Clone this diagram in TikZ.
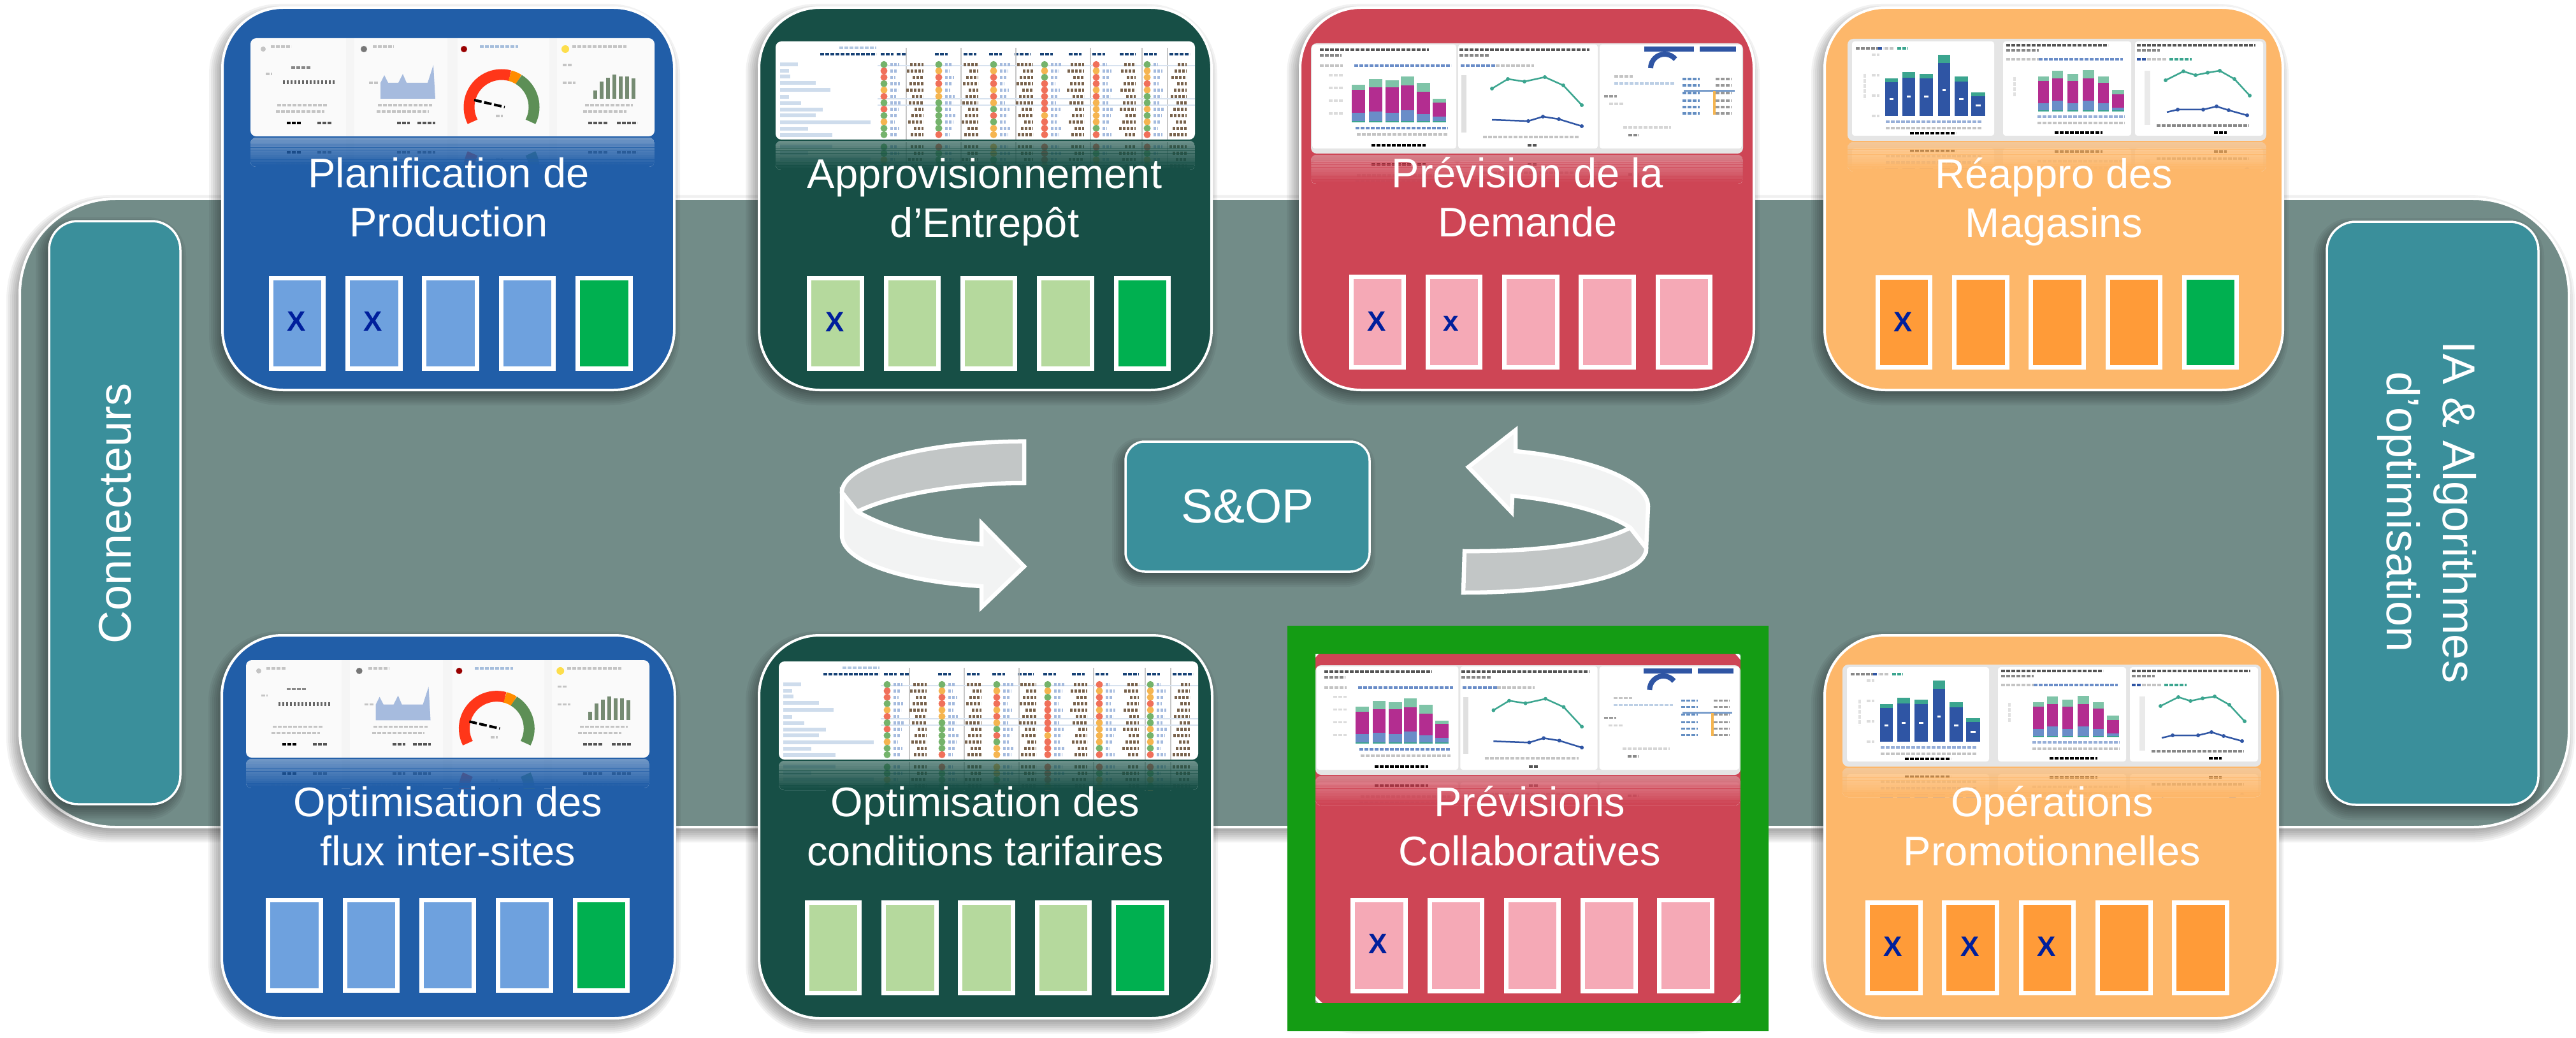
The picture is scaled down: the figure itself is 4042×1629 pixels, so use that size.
\documentclass[tikz,border=0pt]{standalone}
\usepackage{fontspec}
\setmainfont{Liberation Sans}
\definecolor{band}{HTML}{728C88}
\definecolor{teal1}{HTML}{3A8F9B}
\definecolor{cblue}{HTML}{215EA8}
\definecolor{cgreen}{HTML}{174F46}
\definecolor{cred}{HTML}{CE4555}
\definecolor{corange}{HTML}{FDB76A}
\definecolor{sblue}{HTML}{6EA1DE}
\definecolor{sgreen}{HTML}{B5D99D}
\definecolor{spink}{HTML}{F5A9B6}
\definecolor{sorange}{HTML}{FF9B38}
\definecolor{slast}{HTML}{00B050}
\definecolor{xnavy}{HTML}{001F9C}
\definecolor{frameg}{HTML}{149C14}
\definecolor{arlight}{HTML}{F2F3F3}
\definecolor{argrey}{HTML}{C2C6C6}
\definecolor{stG}{HTML}{74B36B}
\definecolor{stR}{HTML}{F0705A}
\definecolor{stO}{HTML}{F5B550}
\definecolor{bgreen}{HTML}{7FC4A8}
\definecolor{bmag}{HTML}{B32D90}
\definecolor{bblue}{HTML}{6A8DC8}
\definecolor{bteal}{HTML}{3BA58F}
\definecolor{bnavy}{HTML}{2F55A4}
\definecolor{mkgrey}{HTML}{C4C4C4}
\definecolor{mkdark}{HTML}{555555}
\tikzset{
  mk/.style={line width=3.5pt,dash pattern=on 6pt off 2pt},
  tb/.style={line width=5pt,dash pattern=on 4pt off 2pt},
  cardtext/.style={anchor=north,inner sep=0pt,align=center,text=white,font=\fontsize{65}{77.5}\selectfont},
  sidetext/.style={inner sep=0pt,align=center,text=white,font=\fontsize{72}{88}\selectfont},
  xmark/.style={inner sep=0pt,text=xnavy,font=\fontsize{44}{44}\selectfont\bfseries},
  slotbox/.style={draw=white,line width=7pt},
  tealbox/.style={fill=teal1,draw=white,line width=3.5pt},
  arrowface/.style={draw=white,line width=6.5pt,line join=miter,miter limit=10}
}
\newcommand\softshadow[5]{%
  \foreach \s in {-6,-3,0,3,6,9,12,15}{%
    \pgfmathsetmacro\rr{#5+\s}%
    \fill[black,opacity=.05,rounded corners=\rr pt] ({#1-\s-6},{#2-\s+9}) rectangle ({#3+\s-6},{#4+\s+9});
  }%
}
\newcommand\roundbox[6]{%
  \softshadow{#1}{#2}{#3}{#4}{#5}%
  \draw[fill=#6,draw=white,line width=4pt,rounded corners=#5pt] (#1,#2) rectangle (#3,#4);
}
\newcommand\slotrow[3]{% y1, y2, list x1/x2/fill
  \foreach \a/\b/\c in {#3}{%
    \draw[slotbox,fill=\c] ({\a+3.5},{#1+3.5}) rectangle ({\b-3.5},{#2-3.5});
  }%
}
% gauge dashboard, 634 x 154
\newcommand\dashA{%
  \fill[black!4] (150,0) rectangle (163,154);
  \fill[black!4] (309,0) rectangle (325,154);
  \fill[black!4] (469,0) rectangle (481,154);
  \fill[mkgrey] (20,17) circle[radius=4];
  \draw[mk,mkgrey] (32,13)--(64,13);
  \draw[mk,mkdark!70] (64,46)--(94,46);
  \draw[line width=6pt,mkdark!90,dash pattern=on 3pt off 3pt] (51,69)--(134,69);
  \draw[mk,mkgrey] (24,56)--(34,56);
  \draw[mk,mkgrey] (42,105)--(120,105);
  \draw[mk,mkgrey] (40,115)--(116,115);
  \draw[mk,black] (57,133)--(80,133);
  \draw[mk,mkdark] (105,133)--(128,133);
  \fill[mkdark!80] (178,17) circle[radius=5];
  \draw[mk,mkgrey] (192,13)--(225,13);
  \fill[fill=bblue!60] (204,95)--(204,70)--(210,58)--(216,70)--(232,70)--(239,56)--(245,70)--(278,70)--(287,42)--(290,95)--cycle;
  \draw[mk,mkgrey] (186,70)--(200,70);
  \draw[mk,mkgrey] (200,105)--(285,105);
  \draw[mk,mkgrey] (198,115)--(280,115);
  \draw[mk,mkdark] (230,133)--(250,133);
  \draw[mk,mkdark] (262,133)--(290,133);
  \fill[red!60!black] (335,17) circle[radius=5];
  \draw[mk,cblue!40] (360,13)--(420,13);
  \draw[line width=17pt,red!75!orange!90] (394,108) ++(-207:51) arc[start angle=-207,end angle=-75,radius=51];
  \draw[line width=17pt,orange!90!yellow] (394,108) ++(-75:51) arc[start angle=-75,end angle=-58,radius=51];
  \draw[line width=17pt,stG!80!black] (394,108) ++(-58:51) arc[start angle=-58,end angle=27,radius=51];
  \draw[line width=4pt,black,dash pattern=on 12pt off 4pt] (351,97)--(399,108);
  \draw[mk,mkgrey] (385,122)--(396,122);
  \fill[yellow!70!orange!70] (494,17) circle[radius=6];
  \draw[mk,mkgrey] (505,13)--(590,13);
  \draw[mk,mkgrey] (490,42)--(505,42);
  \draw[mk,mkgrey] (490,70)--(510,70);
  \foreach \a/\t in {538/82,548/68,558/62,568/57,578/60,588/60,598/63}{%
    \fill[stG!50!black!70] (\a,\t) rectangle ++(6,{95-\t});
  }%
  \draw[mk,mkgrey] (525,105)--(600,105);
  \draw[mk,mkgrey] (522,115)--(590,115);
  \draw[mk,mkdark] (530,133)--(560,133);
  \draw[mk,mkdark] (575,133)--(607,133);
}
% table dashboard, 658 x 154
\newcommand\stcol[2]{%
  \foreach \s [count=\n] in {#2}{%
    \pgfmathsetmacro\yy{26.3+10*\n}%
    \pgfmathsetmacro\wa{7+mod(\n*7+#1,10)}%
    \pgfmathsetmacro\wb{10+mod(\n*5+#1,14)}%
    \fill[st\s] (#1,\yy) circle[radius=5.5];
    \draw[tb,bblue!60] ({#1+10},\yy)--({#1+10+\wa},\yy);
    \draw[tb,mkdark!65!brown] ({#1+58-\wb},\yy)--({#1+62},\yy);
  }%
}
\newcommand\dashB{%
  \foreach \ly/\wd in {36/35,46/21,55/23,65/63,76/86,87/21,97/40,107/74,116/63,127/149,137/51,147/89}{%
    \draw[line width=6pt,cblue!22] (7,\ly)--(\wd,\ly);
  }%
  \draw[mk,cblue!70!black] (70,20)--(158,20);
  \draw[mk,cblue!35] (100,10)--(158,10);
  \foreach \a/\b in {165/185,190/205,250/270,295/315,335/355,375/400,415/435,460/480,497/517,540/565,578/598,618/650}{%
    \draw[mk,cblue!70!black] (\a,20)--(\b,20);
  }%
  \foreach \a in {205,291,377,494,575,615}{\draw[line width=2pt,black!22] (\a,10)--(\a,154);}%
  \foreach \b in {38,90,100}{\draw[line width=2pt,cblue!18] (160,\b)--(658,\b);}%
  \stcol{170}{G,R,R,G,O,R,G,R,G,O,G,G}%
  \stcol{256}{G,O,R,R,O,O,G,G,G,G,G,R}%
  \stcol{342}{G,O,R,R,O,R,O,G,R,G,O,O}%
  \stcol{422}{G,O,G,R,R,R,R,R,O,R,R,R}%
  \stcol{503}{R,O,R,R,O,R,O,O,O,O,G,R}%
  \stcol{583}{G,O,O,R,O,G,G,O,G,O,G,R}%
}
% demand dashboard, 678 x 173
\newcommand\dashC{%
  \fill[white,rounded corners=4pt] (2,2) rectangle (228,165);
  \fill[white,rounded corners=4pt] (231,2) rectangle (450,165);
  \fill[white,rounded corners=4pt] (453,2) rectangle (676,165);
  \draw[mk,mkdark] (14,10)--(185,10);
  \draw[mk,mkdark!70] (14,19)--(48,19);
  \draw[mk,mkdark] (233,10)--(437,10);
  \draw[mk,mkdark!70] (233,19)--(280,19);
  \draw[mk,mkgrey] (14,35)--(50,35);
  \draw[mk,bblue] (68,35)--(220,35);
  \draw[mk,bblue] (235,35)--(290,35);
  \draw[mk,mkgrey] (290,35)--(350,35);
  \foreach \a/\t/\g/\m in {64/65/73/109,91/56/69/107,117/58/69/109,141/52/66/105,166/62/76/111,191/87/93/115}{%
    \fill[bgreen] (\a,\t) rectangle ++(21,{\g-\t});
    \fill[bmag] (\a,\g) rectangle ++(21,{\m-\g});
    \fill[bblue] (\a,\m) rectangle ++(21,{122-\m});
    \fill[bteal] (\a,122) rectangle ++(21,2);
  }%
  \draw[mk,mkgrey!60] (28,50)--(50,50);
  \draw[mk,mkgrey!60] (28,70)--(50,70);
  \draw[mk,mkgrey!60] (28,90)--(50,90);
  \draw[mk,mkgrey!60] (28,110)--(50,110);
  \draw[mk,bblue] (70,133)--(215,133);
  \draw[mk,mkgrey] (72,143)--(215,143);
  \draw[mk,black] (95,160)--(180,160);
  \draw[line width=8pt,black!12] (240,50)--(240,140);
  \draw[line width=2.5pt,bteal] (284,71)--(309,56)--(335,60)--(367,53)--(396,66)--(425,97);
  \foreach \a/\b in {284/71,309/56,335/60,367/53,396/66,425/97}{\fill[bteal] (\a,\b) circle[radius=3];}%
  \draw[line width=2.5pt,bnavy] (284,120)--(341,122)--(364,115)--(389,119)--(425,130);
  \foreach \a/\b in {341/122,364/115,389/119,425/130}{\fill[bnavy] (\a,\b) circle[radius=3];}%
  \draw[mk,mkgrey] (270,147)--(420,147);
  \draw[mk,mkdark] (340,160)--(355,160);
  \fill[bnavy] (523,5) rectangle (601,13);
  \fill[bnavy] (610,5) rectangle (667,13);
  \draw[line width=8pt,bnavy] (555,39) ++(-180:22) arc[start angle=-180,end angle=-40,radius=22];
  \draw[mk,mkgrey] (476,52)--(505,52);
  \draw[mk,cblue!30] (476,63)--(570,63);
  \draw[mk,mkdark!60] (460,83)--(480,83);
  \draw[mk,mkgrey!70] (468,95)--(490,95);
  \draw[mk,mkgrey!70] (490,132)--(565,132);
  \draw[mk,mkdark!70] (498,144)--(515,144);
  \foreach \b in {56,66,78,90,100,110}{\draw[mk,cblue!70] (583,\b)--(610,\b);\draw[mk,mkdark!60] (635,\b)--(660,\b);}%
  \draw[line width=3pt,cblue!60] (585,75)--(665,75);
  \draw[line width=4pt,stO] (633,75)--(633,112);
}
% bars dashboard, 657 x 160
\newcommand\dashD{%
  \fill[white,rounded corners=4pt] (7,4) rectangle (230,152);
  \fill[white,rounded corners=4pt] (244,4) rectangle (445,152);
  \fill[white,rounded corners=4pt] (451,4) rectangle (652,152);
  \draw[mk,mkdark!70] (13,15)--(48,15);
  \draw[mk,bnavy] (48,15)--(56,15);
  \draw[mk,mkgrey] (58,15)--(72,15);
  \draw[mk,bteal] (78,15)--(95,15);
  \foreach \a/\b/\t/\g/\l in {58.5/79/62/68/95,86/106/52/61/91,113/134/55/62/91,142/161/25/38/81,168/189/59/67/95,194/216/84/90/105}{%
    \fill[bteal] (\a,\t) rectangle (\b,\g);
    \fill[bnavy] (\a,\g) rectangle (\b,121);
    \draw[line width=3pt,white] ({\a+7},\l)--({\b-7},\l);
  }%
  \draw[mk,mkgrey!50] (27,55)--(27,95);
  \foreach \b in {25,57,89,121}{\draw[mk,mkgrey!60] (38,\b)--(50,\b);}%
  \draw[mk,bblue!70] (60,130)--(210,130);
  \draw[mk,mkgrey] (60,140)--(210,140);
  \draw[mk,black] (98,148)--(170,148);
  \draw[mk,mkdark] (249,10)--(409,10);
  \draw[mk,mkdark!70] (249,18)--(300,18);
  \draw[mk,mkgrey] (249,32)--(300,32);
  \draw[mk,bblue] (300,32)--(432,32);
  \foreach \a/\b/\t/\g/\m in {299/316/59/66/101,321/338/50/62/97,345/362/55/66/101,369/387/49/62/97,393/410/59/69/101,415/434/80/87/108}{%
    \fill[bgreen] (\a,\t) rectangle (\b,\g);
    \fill[bmag] (\a,\g) rectangle (\b,\m);
    \fill[bblue] (\a,\m) rectangle (\b,112);
    \fill[bteal] (\a,112) rectangle (\b,114);
  }%
  \draw[mk,mkgrey!50] (262,60)--(262,90);
  \draw[mk,bblue!70] (298,122)--(435,122);
  \draw[mk,mkgrey] (298,132)--(435,132);
  \draw[mk,black] (325,147)--(400,147);
  \draw[mk,mkdark] (454,10)--(640,10);
  \draw[mk,mkdark!70] (454,18)--(490,18);
  \draw[mk,bnavy] (454,32)--(470,32);
  \draw[mk,mkgrey] (470,32)--(500,32);
  \draw[mk,bteal] (505,32)--(540,32);
  \draw[line width=9pt,mkgrey!35] (470,50)--(470,135);
  \draw[line width=2.5pt,bteal] (499,65)--(527,51)--(546,57)--(565,53)--(584,50)--(607,63)--(631,89);
  \foreach \a/\b in {499/65,527/51,546/57,565/53,584/50,607/63,631/89}{\fill[bteal] (\a,\b) circle[radius=3];}%
  \draw[line width=2.5pt,bnavy] (501,115)--(518,111)--(558,111)--(579,106)--(598,112)--(627,120);
  \foreach \a/\b in {518/111,558/111,579/106,598/112,627/120}{\fill[bnavy] (\a,\b) circle[radius=3];}%
  \draw[mk,mkdark!70] (485,136)--(630,136);
  \draw[mk,black] (575,147)--(595,147);
}
\newcommand\board[9]{%
  \fill[#9,rounded corners=9pt] (#2,#3) rectangle ++(#4,#5);
  \begin{scope}[shift={(#2,#3)},xscale=#4/#7,yscale=#5/#8]
    \csname dash#1\endcsname
  \end{scope}
  \begin{scope}
    \clip[rounded corners=9pt] (#2,{#3+#5+2}) rectangle ++(#4,46);
    \fill[#9] (#2,{#3+#5+2}) rectangle ++(#4,46);
    \begin{scope}[shift={(#2,{#3+2*#5+4})},xscale=#4/#7,yscale=-#5/#8]
      \csname dash#1\endcsname
    \end{scope}
    \foreach \k in {0,...,11}{%
      \pgfmathsetmacro\op{.64+.36*\k/11}%
      \fill[#6,opacity=\op] (#2,{#3+#5+2+\k*46/12}) rectangle ++(#4,4.2);
    }%
  \end{scope}
}
\begin{document}
\begin{tikzpicture}[x=1pt,y=-1pt]
\useasboundingbox (0,0) rectangle (4042,1629);
\fill[white] (0,0) rectangle (4042,1629);
% band
\roundbox{31}{312}{4031}{1298}{150}{band}
% side boxes
\softshadow{77}{347}{283}{1262}{45}
\draw[tealbox,rounded corners=45pt] (77,347) rectangle (283,1262);
\node (connect) [sidetext,rotate=90,anchor=base] at (205,806) {Connecteurs};
\softshadow{3651}{348}{3983}{1263}{45}
\draw[tealbox,rounded corners=45pt] (3651,348) rectangle (3983,1263);
\node (algo) [sidetext,rotate=-90] at (3806.6,804) {\strut IA \& Algorithmes\\\strut d’optimisation};
% top row
\roundbox{349}{12}{1058}{612}{95}{cblue}
\board{A}{393}{60}{634}{154}{cblue}{634}{154}{white!98!black}
\node (planif) [cardtext] at (704,240) {\strut Planification de\\\strut Production};
\slotrow{433}{582}{422/511/sblue,542/632/sblue,662/752/sblue,783/872/sblue,903/993/slast}
\node (x1) [xmark] at (465,504) {X};
\node (x2) [xmark] at (585,504) {X};

\roundbox{1191}{12}{1901}{612}{95}{cgreen}
\board{B}{1217}{65}{658}{154}{cgreen}{658}{154}{white}
\node (appro) [cardtext] at (1545,241) {\strut Approvisionnement\\\strut d’Entrepôt};
\slotrow{433}{582}{1266/1356/sgreen,1387/1476/sgreen,1507/1596/sgreen,1627/1717/sgreen,1748/1837/slast}
\node (x3) [xmark] at (1310,505) {X};

\roundbox{2040}{12}{2752}{612}{95}{cred}
\board{C}{2057}{68}{678}{173}{cred}{678}{173}{black!10}
\node (prev) [cardtext] at (2397,240) {\strut Prévision de la\\\strut Demande};
\slotrow{431}{580}{2117/2206/spink,2237/2326/spink,2357/2447/spink,2477/2567/spink,2598/2687/spink}
\node (x4) [xmark] at (2160,504) {X};
\node (x5) [xmark] at (2277,508) {x};

\roundbox{2863}{12}{3582}{612}{95}{corange}
\board{D}{2899}{61}{657}{160}{corange}{657}{160}{black!10}
\node (reappro) [cardtext] at (3223,241) {\strut Réappro des\\\strut Magasins};
\slotrow{432}{580}{2943/3032/sorange,3063/3153/sorange,3183/3273/sorange,3304/3393/sorange,3424/3513/slast}
\node (x6) [xmark] at (2986,505) {X};
% bottom row
\roundbox{348}{997}{1059}{1598}{95}{cblue}
\board{A}{386}{1036}{633}{153}{cblue}{634}{154}{white!98!black}
\node (optflux) [cardtext] at (703,1227) {\strut Optimisation des\\\strut flux inter-sites};
\slotrow{1409}{1558}{417/507/sblue,538/627/sblue,658/747/sblue,778/868/sblue,899/988/slast}

\roundbox{1191}{997}{1902}{1598}{95}{cgreen}
\board{B}{1222}{1038}{658}{154}{cgreen}{658}{154}{white}
\node (opttar) [cardtext] at (1546,1227) {\strut Optimisation des\\\strut conditions tarifaires};
\slotrow{1413}{1562}{1263/1352/sgreen,1383/1473/sgreen,1503/1593/sgreen,1624/1713/sgreen,1744/1834/slast}

\roundbox{2040}{997}{2752}{1598}{95}{cred}
\board{C}{2064}{1044}{667}{172}{cred}{678}{173}{black!10}
\node (prevcol) [cardtext] at (2400,1227) {\strut Prévisions\\\strut Collaboratives};
\slotrow{1409}{1559}{2119/2209/spink,2240/2329/spink,2360/2449/spink,2480/2570/spink,2600/2690/spink}
\node (x7) [xmark] at (2162,1481) {X};
\fill[frameg,even odd rule] (2020,982) rectangle (2775,1618) (2064,1026) rectangle (2731,1574);

\roundbox{2863}{997}{3574}{1598}{95}{corange}
\board{D}{2891}{1043}{657}{160}{corange}{657}{160}{black!10}
\node (oper) [cardtext] at (3220,1227) {\strut Opérations\\\strut Promotionnelles};
\slotrow{1413}{1562}{2927/3017/sorange,3047/3137/sorange,3168/3257/sorange,3288/3378/sorange,3408/3498/sorange}
\node (x8) [xmark] at (2970,1485) {X};
\node (x9) [xmark] at (3091,1485) {X};
\node (x10) [xmark] at (3211,1485) {X};
% S&OP
\softshadow{1766}{693}{2149}{897}{30}
\node (sop) [tealbox,rounded corners=30pt,minimum width=383pt,minimum height=204pt,inner sep=0pt,text=white,font=\fontsize{75}{75}\selectfont] at (1957.5,795) {S\&OP};
% cycle arrows
\draw[arrowface,fill=argrey] (1607,692.7) .. controls (1450,692.7) and (1321,728) .. (1321,773) -- (1345,803) .. controls (1402,775) and (1509,758) .. (1607,758) -- cycle;
\draw[arrowface,fill=arlight] (1321,773) -- (1321,840) .. controls (1321,880) and (1411,912) .. (1540,920) -- (1540,953) -- (1607,889) -- (1540,821) -- (1540,854) .. controls (1455,847) and (1393,830) .. (1345,803) -- cycle;
\draw[arrowface,fill=argrey] (2298,865) .. controls (2428,866) and (2518,850) .. (2558,828) -- (2583,860) .. controls (2585,903) and (2455,930) .. (2296,930) -- cycle;
\draw[arrowface,fill=arlight] (2304,733) -- (2378,675) -- (2378,708) .. controls (2500,720) and (2586,755) .. (2586,795) -- (2583,860) -- (2558,828) .. controls (2518,802) and (2446,785) .. (2373,778) -- (2372,804) -- cycle;
\end{tikzpicture}
\end{document}
